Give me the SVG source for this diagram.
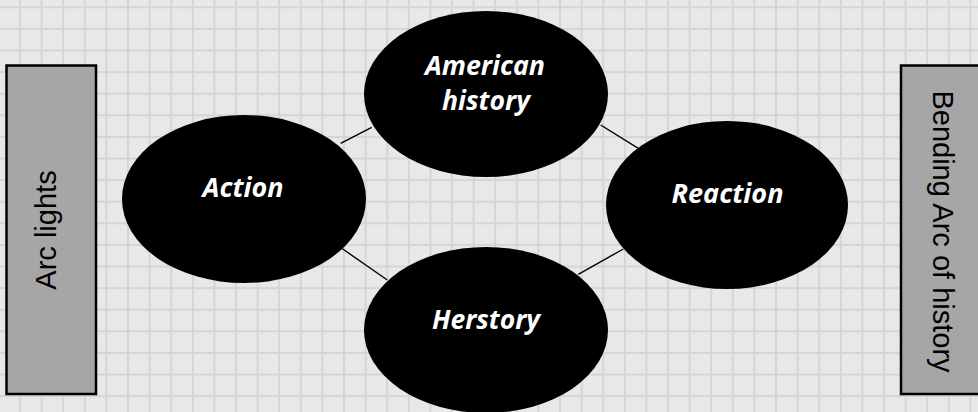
<svg xmlns="http://www.w3.org/2000/svg" width="978" height="412" viewBox="0 0 978 412">
<style>
.node ellipse{fill:#000;}
.lbl{fill:#fff;font-family:"Open Sans","Lato",sans-serif;font-style:italic;font-weight:bold;font-size:26px;text-anchor:middle;}
.box rect{fill:#a6a6a6;stroke:#000;stroke-width:2.5;}
.side{fill:#000;font-family:"Liberation Sans",Arial,sans-serif;font-size:29px;text-anchor:middle;}
#connectors line{stroke:#000;stroke-width:1.4;}
</style>
<defs>
<pattern id="grid" patternUnits="userSpaceOnUse" x="19" y="6.3" width="21.6" height="21.6">
<rect width="21.6" height="21.6" fill="#e8e8e8"/>
<rect x="0" y="0" width="2" height="21.6" fill="#d5d5d5"/>
<rect x="0" y="0" width="21.6" height="2" fill="#d5d5d5"/>
</pattern>
</defs>
<rect width="978" height="412" fill="url(#grid)"/>
<g id="connectors">
<line x1="340.7" y1="143.3" x2="371.7" y2="127.3"/>
<line x1="600.7" y1="125" x2="638.3" y2="148.3"/>
<line x1="341.7" y1="248.3" x2="387.3" y2="280"/>
<line x1="578.3" y1="274.3" x2="623.3" y2="249"/>
</g>
<g id="arc-lights" class="box">
<rect x="6.5" y="65.5" width="89.5" height="328.5"/>
<text class="side" transform="translate(55.5,230) rotate(-90)">Arc lights</text>
</g>
<g id="bending-arc" class="box">
<rect x="901" y="65.5" width="90" height="328.5"/>
<text class="side" transform="translate(933,231.5) rotate(90)">Bending Arc of history</text>
</g>
<g id="american-history" class="node">
<ellipse cx="486" cy="94" rx="122" ry="83"/>
<text class="lbl" x="485" y="75" textLength="120" lengthAdjust="spacingAndGlyphs">American</text>
<text class="lbl" x="486" y="110" textLength="88" lengthAdjust="spacingAndGlyphs">history</text>
</g>
<g id="action" class="node">
<ellipse cx="244" cy="199" rx="122" ry="84"/>
<text class="lbl" x="243" y="197" textLength="81" lengthAdjust="spacingAndGlyphs">Action</text>
</g>
<g id="reaction" class="node">
<ellipse cx="727" cy="205" rx="121" ry="84"/>
<text class="lbl" x="727.5" y="203" textLength="112" lengthAdjust="spacingAndGlyphs">Reaction</text>
</g>
<g id="herstory" class="node">
<ellipse cx="486" cy="330" rx="122" ry="83"/>
<text class="lbl" x="486" y="329" textLength="108" lengthAdjust="spacingAndGlyphs">Herstory</text>
</g>
</svg>
